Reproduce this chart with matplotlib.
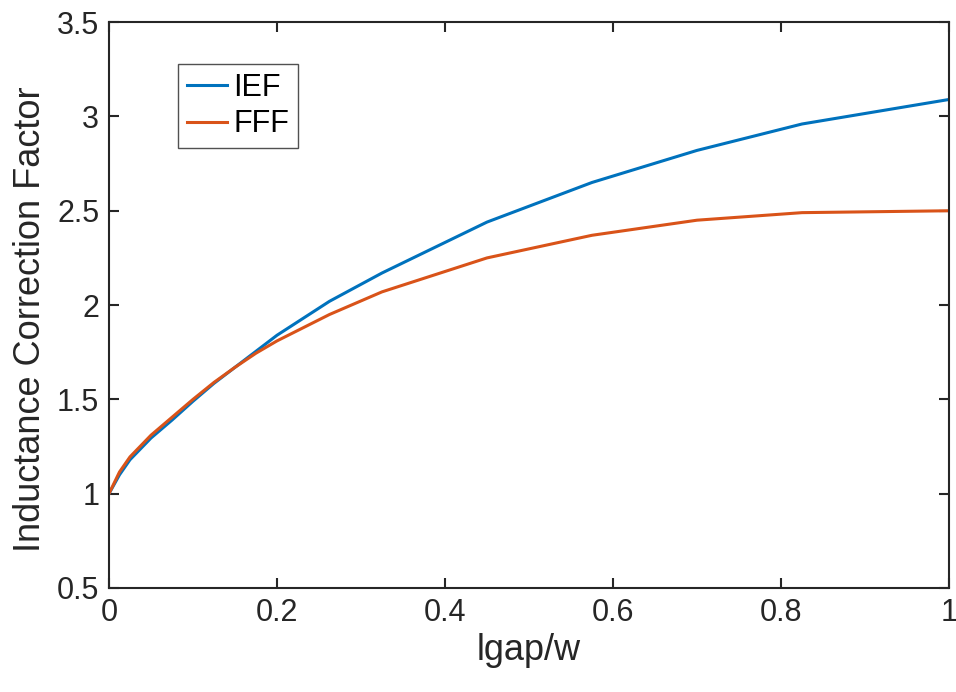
import matplotlib.pyplot as plt
import numpy as np

plt.rcParams['font.family'] = ['Liberation Sans', 'DejaVu Sans']

# data
x_vals = [0, 0.0125, 0.025, 0.05, 0.075, 0.1, 0.125, 0.15, 0.175, 0.2,
          0.2625, 0.325, 0.45, 0.575, 0.7, 0.825, 1.0]
ief_vals = [1.0, 1.10, 1.18, 1.295, 1.39, 1.49, 1.585, 1.67, 1.755, 1.84,
            2.02, 2.17, 2.44, 2.65, 2.82, 2.96, 3.09]
fff_vals = [1.0, 1.115, 1.195, 1.31, 1.405, 1.50, 1.59, 1.67, 1.745, 1.81,
            1.95, 2.07, 2.25, 2.37, 2.45, 2.49, 2.50]
x_ticks = [0, 0.2, 0.4, 0.6, 0.8, 1]
x_ticklabels = ['0', '0.2', '0.4', '0.6', '0.8', '1']
y_ticks = [0.5, 1, 1.5, 2, 2.5, 3, 3.5]
y_ticklabels = ['0.5', '1', '1.5', '2', '2.5', '3', '3.5']

fig = plt.figure(figsize=(9.56, 6.92), dpi=100)
ax = fig.add_axes([0.114, 0.1503, 0.8787, 0.8177])

ax.plot(x_vals, ief_vals, color='#0072BD', linewidth=2.2, label='IEF')
ax.plot(x_vals, fff_vals, color='#D95319', linewidth=2.2, label='FFF')

ax.set_xlim(0, 1)
ax.set_ylim(0.5, 3.5)
ax.set_xticks(x_ticks)
ax.set_xticklabels(x_ticklabels)
ax.set_yticks(y_ticks)
ax.set_yticklabels(y_ticklabels)

for sp in ax.spines.values():
    sp.set_color('#262626')
    sp.set_linewidth(1.5)
ax.tick_params(direction='in', top=True, right=True, length=7, width=1.5,
               color='#262626', labelsize=22, labelcolor='#262626', pad=7)

ax.set_xlabel('lgap/w', fontsize=26, color='#262626', labelpad=4)
ax.set_ylabel('Inductance Correction Factor', fontsize=26, color='#262626')
ax.yaxis.set_label_coords(-0.073, 0.475)

leg = ax.legend(loc='upper left', bbox_to_anchor=(0.064, 0.953), fontsize=22,
                frameon=True, fancybox=False, handlelength=1.3, handletextpad=0.2,
                borderpad=0.3, labelspacing=0.2)
leg.get_frame().set_edgecolor('#262626')
leg.get_frame().set_linewidth(1.0)

plt.savefig('out.png', dpi=100)
plt.close(fig)
